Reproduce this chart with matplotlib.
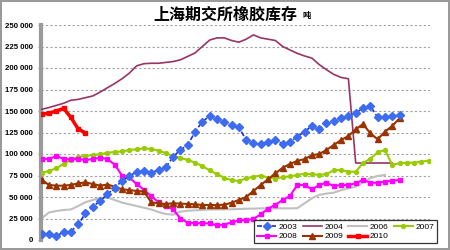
import matplotlib
matplotlib.use("Agg")
import matplotlib.pyplot as plt
from matplotlib.ticker import FuncFormatter

# weekly SHFE rubber stock, tonnes
y2003 = [6600, 6800, 5000, 8900, 9700, 18200, 31000, 38800, 45300, 53100,
         60800, 68600, 74400, 79100, 80200, 78300, 81400, 84500, 96900, 104700,
         110500, 125900, 137600, 144200, 140300, 137600, 133700, 131000, 116300, 112400,
         111600, 114300, 116300, 111600, 114300, 120100, 126000, 132600, 128700, 135700,
         138700, 141500, 144200, 148000, 153100, 155800, 142700, 142700, 144200, 145300]
y2004 = [152000, 154000, 156500, 159000, 162500, 163500, 165500, 167500, 172000, 177000,
         182000, 187500, 194000, 202500, 205000, 205500, 205500, 206500, 207500, 209500,
         213500, 217500, 225000, 232500, 235000, 235000, 232000, 230000, 233500, 238500,
         235000, 233500, 232000, 225000, 221000, 217000, 214000, 211500, 204000, 198000,
         192500, 189000, 187500, 89500, 89500, 89500, 89500, 89500, 89500]
y2006 = [25200, 32000, 33700, 34900, 35500, 39500, 44000, 46500, 49000, 49500,
         46500, 43500, 41500, 39500, 37500, 35500, 32500, 30200, 29500, 33000,
         34000, 34500, 35000, 35500, 35500, 35700, 35700, 36000, 36400, 36500,
         36800, 36800, 36800, 36800, 36800, 37000, 42700, 48500, 52500, 54000,
         55000, 58000, 60000, 62000, 67000, 72000, 74500, 75600]
y2007 = [78300, 80200, 83400, 88400, 93000, 96900, 97700, 98800, 99600, 101500,
         102300, 103000, 104700, 105500, 106600, 105800, 104000, 101000, 97500, 95500,
         93000, 90000, 86000, 81000, 76500, 72500, 69500, 68600, 71700, 73500,
         75000, 72500, 71500, 73000, 74000, 75500, 77000, 76700, 75600, 76700,
         81000, 81400, 79400, 79400, 89500, 94500, 102000, 104700, 87500, 89200,
         89900, 89900, 91100, 92200]
y2008 = [94500, 94200, 97700, 94200, 93800, 94200, 93000, 94200, 95700, 94200,
         87500, 75000, 72700, 65000, 58500, 50800, 44000, 39500, 35500, 25000,
         20100, 19700, 19400, 19400, 17000, 18000, 20500, 22800, 23000, 24500,
         30000, 36500, 41000, 46500, 51200, 64000, 64000, 58900, 64000, 66600,
         62800, 64000, 64000, 65900, 69800, 66600, 66600, 67800, 69000, 69800]
y2009 = [69800, 64000, 63200, 63200, 64000, 65900, 67000, 65100, 63200, 64500,
         62000, 59000, 58100, 57000, 56500, 43800, 42700, 41900, 42700, 42300,
         41900, 41500, 40700, 40700, 40700, 41000, 43400, 46500, 50000, 57000,
         64000, 70600, 77500, 84000, 88400, 92000, 94000, 98500, 100000, 104700,
         110500, 116300, 120900, 128700, 134900, 124100, 117100, 125900, 132600, 141500]
y2010 = [146000, 147500, 150000, 153000, 142500, 129000, 124500]

yticks = [0, 25000, 50000, 75000, 100000, 125000, 150000, 175000, 200000, 225000, 250000]

plt.rcParams['font.family'] = ['Liberation Sans', 'DejaVu Sans']

fig = plt.figure(figsize=(4.5, 2.5), dpi=100)
fig.patch.set_facecolor('white')
fig.patch.set_edgecolor('#9a9a9a')
fig.patch.set_linewidth(1.5)
ax = fig.add_axes([0.091, 0.04, 0.865, 0.86])

ax.plot(range(len(y2003)), y2003, color='#1a33cc', ls=(0, (3, 1.5)), lw=1.2,
        marker='D', ms=3.8, mfc='#3d6cf0', mec='#3d6cf0', label='2003', zorder=5)
ax.plot(range(len(y2004)), y2004, color='#993366', lw=1.2, label='2004', zorder=3)
ax.plot(range(len(y2006)), y2006, color='#c0c0c0', lw=1.5, label='2006', zorder=2)
ax.plot(range(len(y2007)), y2007, color='#99cc00', lw=1.5, marker='o', ms=2.8,
        label='2007', zorder=4)
ax.plot(range(len(y2008)), y2008, color='#ff00ff', lw=1.5, marker='s', ms=3.5,
        label='2008', zorder=4)
ax.plot(range(len(y2009)), y2009, color='#993300', lw=1.5, marker='^', ms=3.8,
        label='2009', zorder=4)
ax.plot(range(len(y2010)), y2010, color='#ff0000', lw=2.5, marker='s', ms=3.5,
        label='2010', zorder=6)

ax.set_xlim(-0.1, 53.2)
ax.set_ylim(0, 250000)
ax.set_yticks(yticks)
ax.yaxis.set_major_formatter(FuncFormatter(lambda v, p: f"{int(v):,}".replace(',', ' ')))
ax.set_xticks([])
ax.grid(axis='y', color='#a0a0a0', ls=(0, (2, 2)), lw=0.8)
ax.set_axisbelow(True)
for s in ['top', 'right', 'bottom']:
    ax.spines[s].set_visible(False)
ax.spines['left'].set_color('#9a9a9a')
ax.spines['left'].set_linewidth(3)
ax.tick_params(axis='y', length=2, color='#9a9a9a', pad=4, labelsize=5.6)
for t in ax.get_yticklabels():
    t.set_fontweight('bold')

fig.text(0.34, 0.94, '上海期交所橡胶库存', fontsize=11.5, fontweight='bold',
         family=['Noto Sans CJK SC', 'DejaVu Sans'], va='center', ha='left')
fig.text(0.673, 0.938, '吨', fontsize=6, fontweight='bold',
         family=['Noto Sans CJK SC', 'DejaVu Sans'], va='center', ha='left')

h, l = ax.get_legend_handles_labels()
order = [0, 4, 1, 5, 2, 6, 3]
leg = fig.legend([h[i] for i in order], [l[i] for i in order], loc='lower left',
                 bbox_to_anchor=(0.556, 0.01), ncol=4, fontsize=6, frameon=True,
                 fancybox=False, edgecolor='black', handlelength=2.3,
                 columnspacing=0.6, handletextpad=0.3, borderpad=0.35,
                 labelspacing=0.2)
leg.get_frame().set_linewidth(0.9)

fig.savefig('out.png', dpi=100)
